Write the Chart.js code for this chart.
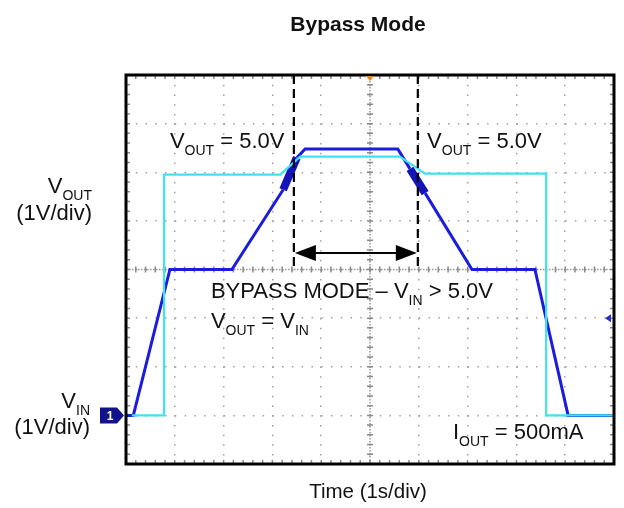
<!DOCTYPE html>
<html>
<head>
<meta charset="utf-8">
<title>Bypass Mode</title>
<script src="https://cdn.jsdelivr.net/npm/chart.js@4.4.1/dist/chart.umd.min.js"></script>
<style>
  html, body { margin: 0; padding: 0; background: #fff; }
  #wrap { width: 624px; height: 508px; }
</style>
</head>
<body>
<div id="wrap"><canvas id="scope" width="624" height="508"></canvas></div>
<script>
// scope screen: 10 divisions across (1s/div), 8 divisions up (1V/div)
var xDivs = [0, 1, 2, 3, 4, 5, 6, 7, 8, 9, 10];
var yDivs = [0, 1, 2, 3, 4, 5, 6, 7, 8];

// VIN trace (dark blue), in divisions; ground marker sits at 1 div
var vinTime = [0, 0.15, 0.9, 2.17, 3.22, 3.5, 3.67, 5.57, 5.82, 6.13, 7.09, 8.38, 9.06, 10];
var vinDiv  = [1.0, 1.0, 4.0, 4.0, 5.64, 6.3, 6.48, 6.48, 6.07, 5.57, 4.0, 4.0, 1.0, 1.0];

// VOUT trace (cyan)
var voutTime = [0.12, 0.78, 0.78, 3.16, 3.57, 5.61, 6.13, 8.61, 8.61, 10];
var voutDiv  = [1.0, 1.0, 5.95, 5.95, 6.32, 6.32, 5.97, 5.97, 1.0, 1.0];

// stretches where VIN gets noisy around the 5.0V crossing
var vinNoisy = [[3.22, 3.5], [5.82, 6.13]];

// bypass window cursors + arrow
var bypassStart = 3.44, bypassEnd = 5.98, cursorLow = 4, arrowLevel = 4.34;

var FONT = 'Arial, "Liberation Sans", sans-serif';

function pts(xs, ys) {
  return xs.map(function (x, i) { return { x: x, y: ys[i] }; });
}
function noisy(x0, x1) {
  return vinNoisy.some(function (r) { return x0 >= r[0] - 1e-6 && x1 <= r[1] + 1e-6; });
}

// text with subscripts: parts = [[text, isSub], ...]
function partsWidth(ctx, parts, size, sub) {
  var w = 0;
  parts.forEach(function (p) {
    ctx.font = (p[1] ? sub : size) + 'px ' + FONT;
    w += ctx.measureText(p[0]).width;
  });
  return w;
}
function drawParts(ctx, parts, x, y, align) {
  var size = 22, sub = 14;
  if (align === 'right') x -= partsWidth(ctx, parts, size, sub);
  ctx.textAlign = 'left';
  ctx.textBaseline = 'alphabetic';
  ctx.fillStyle = '#111';
  parts.forEach(function (p) {
    ctx.font = (p[1] ? sub : size) + 'px ' + FONT;
    ctx.fillText(p[0], x, p[1] ? y + 7 : y);
    x += ctx.measureText(p[0]).width;
  });
}

var scopeDecor = {
  id: 'scopeDecor',
  beforeDatasetsDraw: function (chart) {
    var ctx = chart.ctx, a = chart.chartArea;
    var xs = chart.scales.x, ys = chart.scales.y;
    var cx = xs.getPixelForValue(5), cy = ys.getPixelForValue(4);
    ctx.save();
    // center crosshair, dense dots + sub-division ticks
    ctx.strokeStyle = '#9a9a9a';
    ctx.lineWidth = 1.5;
    ctx.setLineDash([1.5, 1.5]);
    ctx.beginPath();
    ctx.moveTo(cx, a.top); ctx.lineTo(cx, a.bottom);
    ctx.moveTo(a.left, cy); ctx.lineTo(a.right, cy);
    ctx.stroke();
    ctx.setLineDash([]);
    ctx.strokeStyle = '#8a8a8a';
    ctx.beginPath();
    for (var i = 0; i <= 50; i++) {
      var px = xs.getPixelForValue(i / 5);
      ctx.moveTo(px, cy - 3); ctx.lineTo(px, cy + 3);
      ctx.moveTo(px, a.top); ctx.lineTo(px, a.top + 4);
      ctx.moveTo(px, a.bottom); ctx.lineTo(px, a.bottom - 4);
    }
    for (var j = 0; j <= 40; j++) {
      var py = ys.getPixelForValue(j / 5);
      ctx.moveTo(cx - 3, py); ctx.lineTo(cx + 3, py);
      ctx.moveTo(a.left, py); ctx.lineTo(a.left + 4, py);
      ctx.moveTo(a.right, py); ctx.lineTo(a.right - 4, py);
    }
    ctx.stroke();
    ctx.restore();
  },
  afterDatasetsDraw: function (chart) {
    var ctx = chart.ctx, a = chart.chartArea;
    var xs = chart.scales.x, ys = chart.scales.y;
    ctx.save();

    // bypass cursors
    var x0 = xs.getPixelForValue(bypassStart), x1 = xs.getPixelForValue(bypassEnd);
    var yl = ys.getPixelForValue(cursorLow);
    ctx.strokeStyle = '#000';
    ctx.lineWidth = 2.2;
    ctx.setLineDash([9, 5]);
    ctx.beginPath();
    ctx.moveTo(x0, a.top); ctx.lineTo(x0, yl);
    ctx.moveTo(x1, a.top); ctx.lineTo(x1, yl);
    ctx.stroke();
    ctx.setLineDash([]);

    // double arrow
    var ya = ys.getPixelForValue(arrowLevel);
    ctx.lineWidth = 2;
    ctx.beginPath();
    ctx.moveTo(x0 + 10, ya); ctx.lineTo(x1 - 10, ya);
    ctx.stroke();
    ctx.fillStyle = '#000';
    ctx.beginPath();
    ctx.moveTo(x0 + 1, ya); ctx.lineTo(x0 + 22, ya - 8); ctx.lineTo(x0 + 22, ya + 8); ctx.closePath();
    ctx.moveTo(x1 - 1, ya); ctx.lineTo(x1 - 22, ya - 8); ctx.lineTo(x1 - 22, ya + 8); ctx.closePath();
    ctx.fill();

    // frame
    ctx.strokeStyle = '#000';
    ctx.lineWidth = 3;
    ctx.strokeRect(a.left, a.top, a.right - a.left, a.bottom - a.top);

    // trigger marker (top centre)
    var tx = xs.getPixelForValue(5);
    ctx.fillStyle = '#f0841e';
    ctx.beginPath();
    ctx.moveTo(tx - 4, a.top + 1); ctx.lineTo(tx + 4, a.top + 1); ctx.lineTo(tx, a.top + 6); ctx.closePath();
    ctx.fill();

    // CH1 ground marker
    var gy = ys.getPixelForValue(1);
    ctx.fillStyle = '#12128a';
    ctx.beginPath();
    ctx.moveTo(a.left - 26, gy - 8); ctx.lineTo(a.left - 9, gy - 8); ctx.lineTo(a.left - 2, gy);
    ctx.lineTo(a.left - 9, gy + 8); ctx.lineTo(a.left - 26, gy + 8); ctx.closePath();
    ctx.fill();
    ctx.fillStyle = '#fff';
    ctx.font = 'bold 12px ' + FONT;
    ctx.textAlign = 'center'; ctx.textBaseline = 'middle';
    ctx.fillText('1', a.left - 16, gy + 1);

    // small level marker on the right
    var ry = ys.getPixelForValue(3);
    ctx.fillStyle = '#2a2ad6';
    ctx.beginPath();
    ctx.moveTo(a.right - 9, ry); ctx.lineTo(a.right - 3, ry - 4); ctx.lineTo(a.right - 3, ry + 4); ctx.closePath();
    ctx.fill();

    // annotations inside the screen
    drawParts(ctx, [['V'], ['OUT', 1], [' = 5.0V']], xs.getPixelForValue(0.9), ys.getPixelForValue(6.5));
    drawParts(ctx, [['V'], ['OUT', 1], [' = 5.0V']], xs.getPixelForValue(6.17), ys.getPixelForValue(6.5));
    drawParts(ctx, [['BYPASS MODE \u2013 V'], ['IN', 1], [' > 5.0V']], xs.getPixelForValue(1.74), ys.getPixelForValue(3.42));
    drawParts(ctx, [['V'], ['OUT', 1], [' = V'], ['IN', 1]], xs.getPixelForValue(1.74), ys.getPixelForValue(2.8));
    drawParts(ctx, [['I'], ['OUT', 1], [' = 500mA']], xs.getPixelForValue(6.7), ys.getPixelForValue(0.51));

    // channel labels left of the screen
    drawParts(ctx, [['V'], ['OUT', 1]], 92, 193, 'right');
    drawParts(ctx, [['(1V/div)']], 92, 220, 'right');
    drawParts(ctx, [['V'], ['IN', 1]], 90, 408, 'right');
    drawParts(ctx, [['(1V/div)']], 90, 434, 'right');

    // title and time base
    ctx.fillStyle = '#111';
    ctx.textAlign = 'center'; ctx.textBaseline = 'alphabetic';
    ctx.font = 'bold 21px ' + FONT;
    ctx.fillText('Bypass Mode', 358, 31);
    ctx.font = '20.5px ' + FONT;
    ctx.fillText('Time (1s/div)', xs.getPixelForValue(5) - 2, 498);

    ctx.restore();
  }
};

function gridScale(vals, min, max, dash) {
  return {
    type: 'linear', min: min, max: max,
    afterBuildTicks: function (s) { s.ticks = vals.map(function (v) { return { value: v }; }); },
    ticks: { display: false },
    grid: { color: '#a0a0a0', lineWidth: 1.5, drawTicks: false },
    border: { display: false, dash: dash }
  };
}

new Chart(document.getElementById('scope'), {
  type: 'line',
  data: {
    datasets: [
      {
        label: 'VOUT',
        data: pts(voutTime, voutDiv),
        borderColor: '#3fe2f2',
        borderWidth: 2.2,
        pointRadius: 0,
        tension: 0
      },
      {
        label: 'VIN',
        data: pts(vinTime, vinDiv),
        borderColor: '#1c1cdc',
        borderWidth: 3,
        pointRadius: 0,
        tension: 0,
        segment: {
          borderWidth: function (c) { return noisy(c.p0.parsed.x, c.p1.parsed.x) ? 8 : 3; },
          borderColor: function (c) { return noisy(c.p0.parsed.x, c.p1.parsed.x) ? '#1414b8' : undefined; }
        }
      }
    ]
  },
  options: {
    responsive: false,
    animation: false,
    events: [],
    layout: { padding: { left: 126, right: 10, top: 75, bottom: 44 } },
    plugins: { legend: { display: false }, tooltip: { enabled: false }, title: { display: false } },
    scales: {
      x: gridScale(xDivs, 0, 10, [1.5, 8.22]),
      y: gridScale(yDivs, 0, 8, [1.5, 8.26])
    }
  },
  plugins: [scopeDecor]
});
</script>
</body>
</html>
